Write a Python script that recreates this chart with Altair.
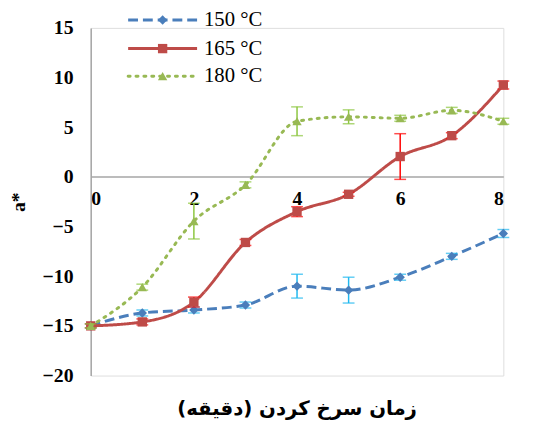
import altair as alt
import pandas as pd

times = [0, 1, 2, 3, 4, 5, 6, 7, 8]
series_names = ["150 °C", "165 °C", "180 °C"]
a150 = [-15.0, -13.7, -13.4, -12.9, -11.0, -11.4, -10.1, -8.0, -5.7]
e150 = [0.2, 0.3, 0.3, 0.3, 1.2, 1.3, 0.3, 0.3, 0.4]
a165 = [-15.0, -14.6, -12.6, -6.6, -3.5, -1.75, 2.05, 4.15, 9.25]
e165 = [0.2, 0.3, 0.5, 0.3, 0.5, 0.2, 2.3, 0.3, 0.4]
a180 = [-15.0, -11.1, -4.45, -0.8, 5.6, 6.05, 5.9, 6.7, 5.6]
e180 = [0.2, 0.3, 1.8, 0.3, 1.45, 0.7, 0.3, 0.3, 0.3]

x_ticks = [0, 2, 4, 6, 8]
y_ticks = [-20, -15, -10, -5, 0, 5, 10, 15]

line_colors = ["#4A7EBB", "#BE4B48", "#98B954"]
err_colors = ["#1FB8F0", "#FF0000", "#8CC63F"]
dashes = [[10, 5], [1, 0], [2, 6]]
shapes = ["diamond", "square", "triangle-up"]

rows = []
for name, vals, errs in zip(series_names, [a150, a165, a180], [e150, e165, e180]):
    for t, v, e in zip(times, vals, errs):
        rows.append({"time": t, "series": name, "a": v, "lo": v - e, "hi": v + e})
df = pd.DataFrame(rows)

serif = "Liberation Serif"
W, H = 419, 353

x_scale = alt.Scale(domain=[0, 8], nice=False)
y_scale = alt.Scale(domain=[-20, 15], nice=False)

x_axis = alt.Axis(values=x_ticks, orient="bottom", offset=-202, ticks=False, grid=False,
                  domainColor="#A6A6A6", domainWidth=1.5, labelFont=serif, labelFontSize=20,
                  labelFontWeight="bold", labelColor="black", labelPadding=12, title=None)
y_axis = alt.Axis(values=y_ticks, ticks=False, grid=False, domainColor="#A6A6A6", domainWidth=1.5,
                  labelFont=serif, labelFontSize=20, labelFontWeight="bold", labelColor="black",
                  labelPadding=18, title="a*", titleFont=serif, titleFontSize=20,
                  titleFontWeight="bold", titleColor="black", titlePadding=14)


def X(field):
    return alt.X(field, scale=x_scale, axis=x_axis)


def Y(field):
    return alt.Y(field, scale=y_scale, axis=y_axis)


layers = []
for i, name in enumerate(series_names):
    sub = df[df.series == name]
    base = alt.Chart(sub)
    err_rule = base.mark_rule(color=err_colors[i], strokeWidth=1.5).encode(
        x=X("time:Q"), y=Y("lo:Q"), y2="hi:Q")
    cap_lo = base.mark_tick(color=err_colors[i], orient="horizontal", size=12, thickness=1.5).encode(
        x=X("time:Q"), y=Y("lo:Q"))
    cap_hi = base.mark_tick(color=err_colors[i], orient="horizontal", size=12, thickness=1.5).encode(
        x=X("time:Q"), y=Y("hi:Q"))
    line = base.mark_line(color=line_colors[i], strokeWidth=3, strokeDash=dashes[i],
                          interpolate="monotone", strokeCap="round" if i == 2 else "butt").encode(
        x=X("time:Q"), y=Y("a:Q"))
    pts = base.mark_point(shape=shapes[i], filled=True, color=line_colors[i], size=90, opacity=1).encode(
        x=X("time:Q"), y=Y("a:Q"))
    layers += [line, err_rule, cap_lo, cap_hi, pts]

# manual legend (top-left, lines with markers)
legend_y = [-8, 21, 49]
for i, name in enumerate(series_names):
    ld = pd.DataFrame({"label": [name]})
    lb = alt.Chart(ld)
    layers.append(lb.mark_rule(color=line_colors[i], strokeWidth=3, strokeDash=dashes[i],
                               strokeCap="round" if i == 2 else "butt").encode(
        x=alt.value(38), x2=alt.value(108), y=alt.value(legend_y[i])))
    layers.append(lb.mark_point(shape=shapes[i], filled=True, color=line_colors[i], size=90, opacity=1).encode(
        x=alt.value(73), y=alt.value(legend_y[i])))
    layers.append(lb.mark_text(align="left", baseline="middle", font=serif, fontSize=21,
                               color="black").encode(
        x=alt.value(115), y=alt.value(legend_y[i]), text="label:N"))

chart = alt.layer(*layers).properties(
    width=W, height=H,
    autosize="none",
    padding={"left": 84, "top": 17, "right": 23, "bottom": 47},
    title=alt.TitleParams("زمان سرخ کردن (دقیقه)", orient="bottom", anchor="middle", frame="group",
                          font="DejaVu Sans", fontSize=20, fontWeight="bold", color="black", offset=14),
).configure_view(strokeWidth=0, stroke="transparent").configure_axis(
    labelFont=serif, titleFont=serif, labelFontWeight="bold", titleFontWeight="bold"
).configure(background="white")

chart.save("out.html", embed_options={"renderer": "svg", "actions": False})
